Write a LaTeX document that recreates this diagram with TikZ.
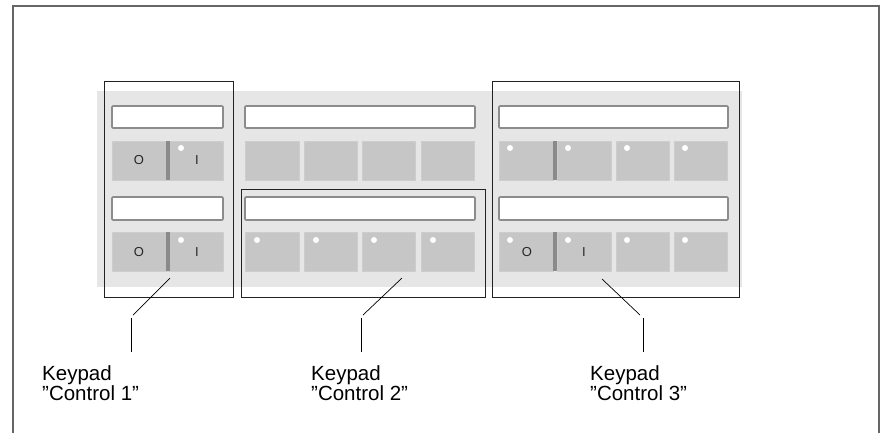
\documentclass[tikz,border=0pt]{standalone}
\usepackage{fontspec}
\setmainfont{Liberation Sans}
\usetikzlibrary{fit}
\definecolor{panelgray}{HTML}{E6E6E6}
\definecolor{keygray}{HTML}{C6C6C6}
\definecolor{keyedge}{HTML}{CDCDCD}
\definecolor{divgray}{HTML}{8A8A8A}
\definecolor{dispedge}{HTML}{8C8C8C}
\definecolor{framegray}{HTML}{666666}
\definecolor{boxline}{HTML}{222222}
\tikzset{
  keyface/.style={fill=keygray, draw=keyedge, line width=0.8pt},
  divider/.style={fill=divgray},
  display/.style={fill=white, draw=dispedge, line width=1.6pt, rounded corners=1pt},
  led/.style={fill=white},
  kbox/.style={draw=boxline, line width=1pt, inner sep=0pt},
  leader/.style={draw=black, line width=0.7pt},
  frameline/.style={draw=framegray, line width=2pt},
  sym/.style={font=\fontsize{13}{13}\selectfont, text=black!85, inner sep=0pt},
  label/.style={font=\fontsize{20.5}{20}\selectfont, align=left, anchor=north west, inner sep=0pt}
}
\begin{document}
\begin{tikzpicture}[x=1pt,y=-1pt]
\useasboundingbox (0,0) rectangle (881,432);
% outer frame (open at bottom)
\draw[frameline] (13,440) -- (13,6) -- (879,6) -- (879,440);
% panel
\fill[panelgray] (97,91) rectangle (742,287);
% displays
\foreach \ya/\yb in {106/128,197/220}{
  \draw[display] (112,\ya) rectangle (223,\yb);
  \draw[display] (245,\ya) rectangle (475,\yb);
  \draw[display] (499,\ya) rectangle (728,\yb);
}
% keys
\foreach \ya/\yb in {141/180,232/271}{
  % left column toggle
  \draw[keyface] (112,\ya) rectangle (223,\yb);
  \fill[divider] (166,\ya) rectangle (170,\yb);
  % middle column
  \foreach \xa/\xb in {245/299,304/357,362/415,421/474}{
    \draw[keyface] (\xa,\ya) rectangle (\xb,\yb);
  }
  % right column
  \foreach \xa/\xb in {499/553,557/611,616/669,674/727}{
    \draw[keyface] (\xa,\ya) rectangle (\xb,\yb);
  }
  \fill[divider] (553,\ya) rectangle (557,\yb);
}
% LEDs
\foreach \y in {148,240}{
  \fill[led] (181,\y) circle (3);
  \foreach \x in {510,568,627,685} \fill[led] (\x,\y) circle (3);
}
\foreach \x in {257,316,374,433} \fill[led] (\x,240) circle (3);
% O / I symbols
\node[sym] (o1) at (139,160) {O};
\node[sym] (i1) at (197,160) {I};
\node[sym] (o2) at (139,252) {O};
\node[sym] (i2) at (197,252) {I};
\node[sym] (o3) at (527,252) {O};
\node[sym] (i3) at (584,252) {I};
% keypad outlines
\node[kbox, fit={(104,81) (233,297)}] (c1) {};
\node[kbox, fit={(241,189) (485,297)}] (c2) {};
\node[kbox, fit={(492,81) (739,297)}] (c3) {};
% leaders
\coordinate (c1a) at (170,278); \coordinate (c1b) at (133,315);
\coordinate (c1c) at (131,318); \coordinate (c1d) at (131,352);
\coordinate (c2a) at (402,278); \coordinate (c2b) at (363,315);
\coordinate (c2c) at (361,318); \coordinate (c2d) at (361,352);
\coordinate (c3a) at (602,279); \coordinate (c3b) at (640,315);
\coordinate (c3c) at (643,318); \coordinate (c3d) at (643,352);
\draw[leader] (c1a) -- (c1b);
\draw[leader] (c1c) -- (c1d);
\draw[leader] (c2a) -- (c2b);
\draw[leader] (c2c) -- (c2d);
\draw[leader] (c3a) -- (c3b);
\draw[leader] (c3c) -- (c3d);
% labels
\node[label] (lab1) at (42,365) {Keypad\\”Control 1”};
\node[label] (lab2) at (311,365) {Keypad\\”Control 2”};
\node[label] (lab3) at (590,365) {Keypad\\”Control 3”};
\end{tikzpicture}
\end{document}
